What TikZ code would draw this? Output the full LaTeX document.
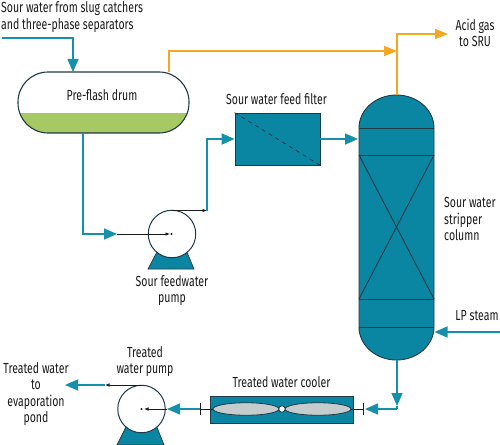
\documentclass[tikz,border=0pt]{standalone}
\usepackage{fontspec}
\setmainfont[FakeStretch=0.72]{Fira Sans}
\usetikzlibrary{arrows.meta,calc}
\definecolor{tealfill}{HTML}{0A86A3}
\definecolor{tealline}{HTML}{1490AB}
\definecolor{orangeline}{HTML}{F5A623}
\definecolor{greenliq}{HTML}{A6C963}
\definecolor{lensgrey}{HTML}{C5CCCE}
\definecolor{outline}{HTML}{1E3A46}
\definecolor{ink}{HTML}{1A1A1A}
\tikzset{
 lbl/.style={font=\fontsize{14.6}{16.6}\selectfont,text=ink,inner sep=0pt,align=center},
 lblleft/.style={lbl,align=left,anchor=west},
 tealflow/.style={draw=tealline,line width=1.5pt},
 orangeflow/.style={draw=orangeline,line width=1.6pt},
 tealhead/.style={tealflow,-{Triangle[length=13pt,width=11pt,fill=tealline]}},
 orangehead/.style={orangeflow,-{Triangle[length=13pt,width=10pt,fill=orangeline]}},
 thin flow/.style={draw=ink,line width=0.7pt},
 smallhead/.style={thin flow,-{Latex[length=4.5pt,width=3.5pt]}},
 pumpbody/.style={circle,draw=outline,line width=1pt,fill=white,minimum size=47.5pt,inner sep=0pt},
 pumpbase/.style={draw=outline,line width=0.7pt,fill=tealfill},
 boxunit/.style={rectangle,draw=outline,line width=0.8pt,fill=tealfill,inner sep=0pt},
 internal/.style={draw=outline,line width=0.9pt},
}
\usetikzlibrary{shapes.geometric}
\begin{document}
\begin{tikzpicture}[x=1pt,y=-1pt]
\useasboundingbox (0,0) rectangle (500,444);

% drum
\node[rectangle,rounded corners=30pt,minimum width=171pt,minimum height=61pt,inner sep=0pt] (drum) at (103.5,102.5) {};
\begin{scope}
\clip[rounded corners=30pt] (18,72) rectangle (189,133);
\fill[greenliq] (18,113) rectangle (189,133);
\end{scope}
\draw[outline,line width=1.1pt,rounded corners=30pt] (18,72) rectangle (189,133);
\node[lbl] (drumlabel) at (102,95) {Pre-flash drum};

% filter
\node[boxunit,minimum width=85pt,minimum height=52pt] (filter) at (277.5,139) {};
\draw[outline,line width=0.8pt,dash pattern=on 4pt off 4pt] (filter.north west) -- (filter.south east);

% column
\node[minimum width=75pt,minimum height=265pt,inner sep=0pt] (col) at (396.5,227.5) {};
\draw[fill=tealfill,draw=outline,line width=0.9pt]
 (359,128) arc[start angle=180,end angle=0,x radius=37.5,y radius=-33] -- (434,327)
 arc[start angle=0,end angle=-180,x radius=37.5,y radius=-33] -- cycle;
\draw[internal] (359,128) -- (434,128) (359,155) -- (434,155) (359,299) -- (434,299) (359,327) -- (434,327);
\draw[internal] (359,155) -- (434,299) (434,155) -- (359,299);

% pumps
\fill[pumpbase] (158,250) -- (148,269) -- (194,269) -- (186,250) -- cycle;
\node[pumpbody] (pumpA) at (172,234) {};
\fill[pumpbase] (127,425) -- (117,445) -- (164,445) -- (156,425) -- cycle;
\node[pumpbody] (pumpB) at (141.5,409) {};

% cooler
\node[boxunit,minimum width=143pt,minimum height=27pt] (cooler) at (281.5,409.5) {};
\node[ellipse,draw=outline,line width=0.8pt,fill=lensgrey,minimum width=66pt,minimum height=12.5pt,inner sep=0pt] (lensL) at (246,409) {};
\node[ellipse,draw=outline,line width=0.8pt,fill=lensgrey,minimum width=66pt,minimum height=12.5pt,inner sep=0pt] (lensR) at (318,409) {};
\node[circle,draw=outline,line width=0.8pt,fill=white,minimum size=6.5pt,inner sep=0pt] (hub) at (282,409) {};

% coordinates
\coordinate (feedstart) at (2,38);
\coordinate (feedcorner) at (73,38);
\coordinate (gasout) at (169,72);
\coordinate (gascorner) at (169,51);
\coordinate (gasjoin) at (397,51);
\coordinate (gastop) at (397,34);
\coordinate (gasend) at (448,34);
\coordinate (pumpAin) at (83,234);
\coordinate (pumpAinTip) at (117,234);
\coordinate (pumpAtop) at (172,210.5);
\coordinate (riserlow) at (207,210.5);
\coordinate (riserhigh) at (207,139);
\coordinate (colout) at (397,409);
\coordinate (coloutTip) at (397,406);
\coordinate (coolerTick) at (363,409);
\coordinate (coolerTickL) at (200,409);
\coordinate (pumpBtop) at (141.5,385);
\coordinate (pumpBline) at (105,385);
\coordinate (treatedTip) at (65,385);
\coordinate (steamstart) at (500,332);

% teal connectors
\draw[tealhead] (feedstart) -- (feedcorner) -- (73,72);
\draw[tealhead] (83,133) -- (pumpAin) -- (pumpAinTip);
\draw[smallhead] (pumpAinTip) -- (170,234);
\fill[ink] (171.5,234) circle (1.2pt);
\draw[smallhead] (pumpAtop) -- (riserlow);
\draw[tealhead] (riserlow) -- (riserhigh) -- (filter.west);
\draw[tealhead] (filter.east) -- (358,139);
\draw[tealhead] (steamstart) -- (434.5,332);
\draw[tealhead] (col.south -| colout) -- (coloutTip);
\draw[tealflow] (coloutTip) -- (colout);
\draw[tealhead] (colout) -- (365,409);
\draw[thin flow] (cooler.east |- coolerTick) -- (coolerTick);
\draw[thin flow] ($(coolerTick)+(0,-6)$) -- ($(coolerTick)+(0,6)$);
\draw[thin flow] (cooler.west |- coolerTickL) -- (coolerTickL);
\draw[thin flow] ($(coolerTickL)+(0,-6)$) -- ($(coolerTickL)+(0,6)$);
\draw[thin flow] (lensR.east) -- (cooler.east |- lensR.east);
\draw[thin flow] (cooler.west |- lensL.west) -- (lensL.west);
\draw[tealhead] (coolerTickL) -- (167,409);
\draw[smallhead] (167,409) -- (144,409);
\fill[ink] (141.5,409) circle (1.2pt);
\draw[smallhead] (pumpBtop) -- (pumpBline);
\draw[tealhead] (pumpBline) -- (treatedTip);

% orange connectors
\draw[orangehead] (gasout) -- (gascorner) -- (gasjoin);
\draw[orangehead] (col.north -| gasjoin) -- (gastop) -- (gasend);

% labels
\node[lblleft] (feedlabel) at (1,17) {Sour water from slug catchers\\and three-phase separators};
\node[lbl] (filterlabel) at (276.5,99) {Sour water feed filter};
\node[lbl] (gaslabel) at (475,33) {Acid gas\\to SRU};
\node[lblleft] (collabel) at (444,219) {Sour water\\stripper\\column};
\node[lbl] (steamlabel) at (477,316) {LP steam};
\node[lbl] (pumpAlabel) at (172,290.5) {Sour feedwater\\pump};
\node[lbl] (pumpBlabel) at (145,361.5) {Treated\\water pump};
\node[lbl] (outlabel) at (36,394) {Treated water\\to\\evaporation\\pond};
\node[lbl] (coolerlabel) at (281.5,382) {Treated water cooler};
\end{tikzpicture}
\end{document}
